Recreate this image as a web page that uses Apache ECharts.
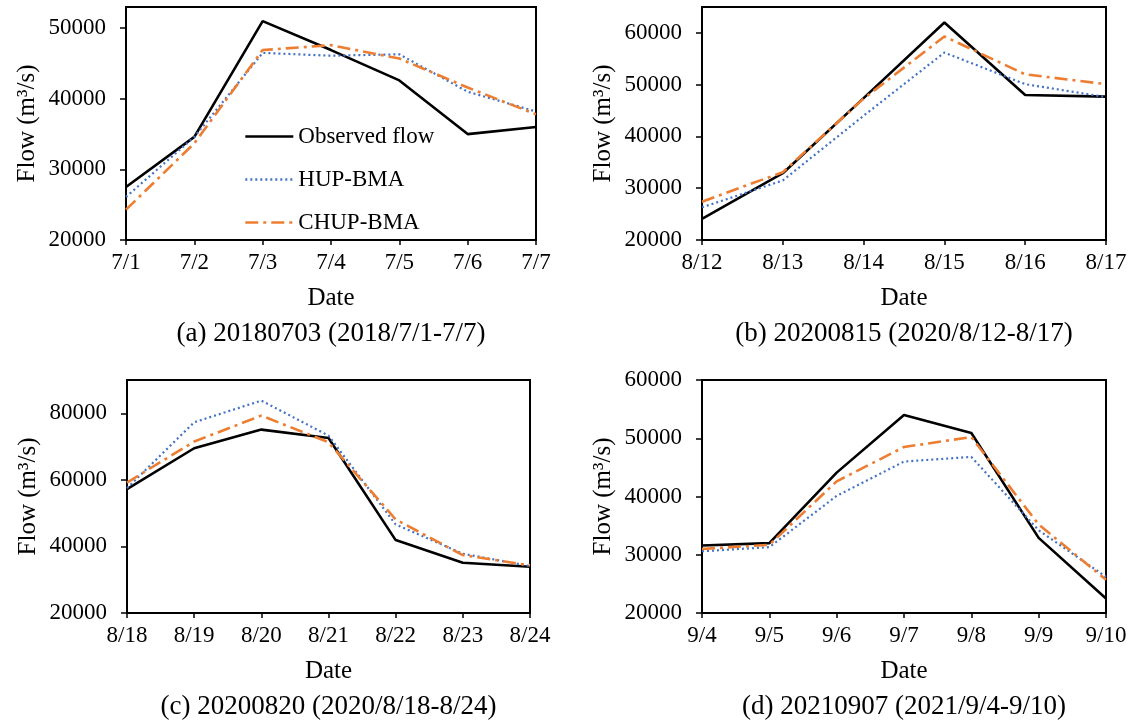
<!DOCTYPE html>
<html>
<head>
<meta charset="utf-8">
<script src="https://cdn.jsdelivr.net/npm/echarts@6/dist/echarts.min.js"></script>
<style>
  html, body { margin: 0; padding: 0; background: #fff; }
  #chart { width: 1130px; height: 725px; }
</style>
</head>
<body>
<div id="chart"></div>
<script>
// dates per panel
var datesA = ['7/1', '7/2', '7/3', '7/4', '7/5', '7/6', '7/7'];
var datesB = ['8/12', '8/13', '8/14', '8/15', '8/16', '8/17'];
var datesC = ['8/18', '8/19', '8/20', '8/21', '8/22', '8/23', '8/24'];
var datesD = ['9/4', '9/5', '9/6', '9/7', '9/8', '9/9', '9/10'];

// (a) 20180703
var obsA  = [27500, 34600, 51000, 46900, 42600, 35000, 36000];
var hupA  = [26100, 34600, 46500, 46100, 46300, 41000, 38200];
var chupA = [24300, 33700, 46900, 47600, 45700, 41600, 37800];

// (b) 20200815
var obsB  = [24100, 32900, 47400, 62000, 48000, 47700];
var hupB  = [26300, 31500, 44000, 56200, 50100, 47600];
var chupB = [27400, 33100, 47300, 59300, 52000, 50100];

// (c) 20200820
var obsC  = [57200, 69500, 75100, 72600, 41900, 35100, 33900];
var hupC  = [57500, 77300, 83800, 73300, 46600, 37800, 34100];
var chupC = [59200, 71500, 79300, 71300, 48100, 37400, 34300];

// (d) 20210907
var obsD  = [31600, 32000, 44100, 54000, 50900, 32900, 22500];
var hupD  = [30600, 31300, 40100, 46000, 46800, 34200, 26200];
var chupD = [31000, 31700, 42600, 48500, 50200, 35200, 25700];

var captions = [
  '(a) 20180703 (2018/7/1-7/7)',
  '(b) 20200815 (2020/8/12-8/17)',
  '(c) 20200820 (2020/8/18-8/24)',
  '(d) 20210907 (2021/9/4-9/10)'
];
var seriesNames = ['Observed flow', 'HUP-BMA', 'CHUP-BMA'];
var yMax = [53000, 65000, 90000, 60000];
var yStep = [10000, 10000, 20000, 10000];

var FONT = "'Liberation Serif', 'Times New Roman', serif";

var panels = [
  { dates: datesA, obs: obsA, hup: hupA, chup: chupA, left: 126, top: 7 },
  { dates: datesB, obs: obsB, hup: hupB, chup: chupB, left: 702, top: 7 },
  { dates: datesC, obs: obsC, hup: hupC, chup: chupC, left: 127, top: 380 },
  { dates: datesD, obs: obsD, hup: hupD, chup: chupD, left: 702, top: 380 }
];
var widths = [410, 404, 403, 404];
var plotH = 233;

var grids = [], xAxes = [], yAxes = [], series = [], titles = [];

panels.forEach(function (p, i) {
  grids.push({
    left: p.left, top: p.top, width: widths[i], height: plotH,
    show: true, borderColor: '#000', borderWidth: 2, backgroundColor: 'transparent'
  });
  xAxes.push({
    type: 'category', gridIndex: i, data: p.dates, boundaryGap: false,
    name: 'Date', nameLocation: 'middle', nameGap: 46,
    nameTextStyle: { fontFamily: FONT, fontSize: 25, color: '#000' },
    axisLine: { lineStyle: { color: '#000', width: 2 } },
    axisTick: { show: true, length: 5, lineStyle: { color: '#000', width: 1.5 } },
    axisLabel: { fontFamily: FONT, fontSize: 23, color: '#000', margin: 11 },
    splitLine: { show: false }
  });
  yAxes.push({
    type: 'value', gridIndex: i, min: 20000, max: yMax[i], interval: yStep[i],
    name: 'Flow (m\u00b3/s)', nameLocation: 'middle', nameGap: 86, nameRotate: 90,
    nameTextStyle: { fontFamily: FONT, fontSize: 25, color: '#000' },
    axisLine: { show: true, lineStyle: { color: '#000', width: 2 } },
    axisTick: { show: true, length: 6, lineStyle: { color: '#000', width: 1.5 } },
    axisLabel: {
      fontFamily: FONT, fontSize: 23, color: '#000', margin: 20, showMaxLabel: i === 3,
      formatter: function (v) { return String(v); }
    },
    splitLine: { show: false }
  });
  series.push({
    name: seriesNames[0], type: 'line', xAxisIndex: i, yAxisIndex: i,
    data: p.obs, showSymbol: false, symbol: 'none',
    lineStyle: { color: '#000', width: 2.6, type: 'solid' },
    itemStyle: { color: '#000' }
  });
  series.push({
    name: seriesNames[1], type: 'line', xAxisIndex: i, yAxisIndex: i,
    data: p.hup, showSymbol: false, symbol: 'none',
    lineStyle: { color: '#4472C4', width: 2.2, type: [2, 3] },
    itemStyle: { color: '#4472C4' }
  });
  series.push({
    name: seriesNames[2], type: 'line', xAxisIndex: i, yAxisIndex: i,
    data: p.chup, showSymbol: false, symbol: 'none',
    lineStyle: { color: '#ED7D31', width: 2.6, type: [13, 5, 3, 5] },
    itemStyle: { color: '#ED7D31' }
  });
  titles.push({
    text: captions[i],
    left: p.left + widths[i] / 2, top: p.top + plotH + 80,
    textAlign: 'center', padding: 0,
    textStyle: { fontFamily: FONT, fontSize: 27, fontWeight: 'normal', color: '#000' }
  });
});

var chart = echarts.init(document.getElementById('chart'));
chart.setOption({
  backgroundColor: '#fff',
  animation: false,
  title: titles,
  legend: {
    data: seriesNames,
    orient: 'vertical', left: 244, top: 125, padding: 0,
    itemWidth: 48, itemHeight: 20, itemGap: 20,
    itemStyle: { opacity: 0, borderWidth: 0 },
    lineStyle: { width: 2.6 },
    textStyle: { fontFamily: FONT, fontSize: 23, color: '#000', padding: [0, 0, 0, 0] }
  },
  grid: grids,
  xAxis: xAxes,
  yAxis: yAxes,
  series: series
});
</script>
</body>
</html>
